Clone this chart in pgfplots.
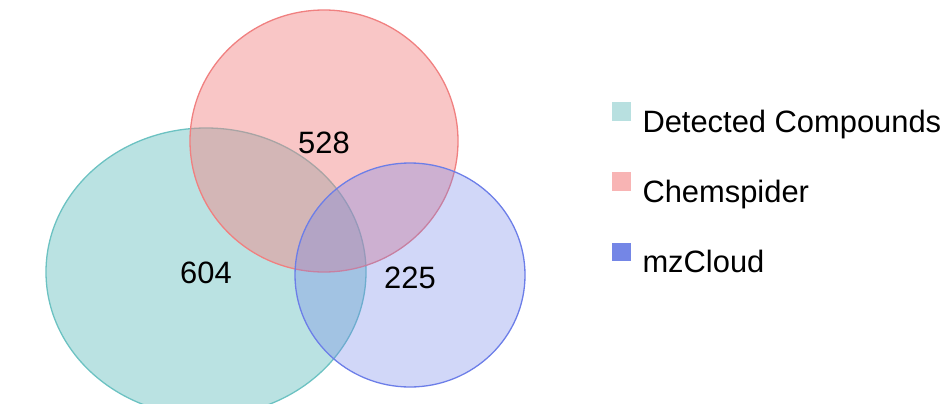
\documentclass[border=0pt]{standalone}
\usepackage{pgfplots}
\usepackage{pgfplotstable}
\usepackage{fontspec}
\setmainfont{Liberation Sans}
\pgfplotsset{compat=1.18}
\definecolor{tealline}{RGB}{108,194,194}
\definecolor{tealbase}{RGB}{118,197,197}
\definecolor{redline}{RGB}{240,128,128}
\definecolor{redbase}{RGB}{242,128,128}
\definecolor{blueline}{RGB}{108,126,232}
\definecolor{bluebase}{RGB}{113,130,232}
\definecolor{legteal}{RGB}{184,224,224}
\definecolor{legred}{RGB}{248,180,180}
\definecolor{legblue}{RGB}{116,134,230}
% sets: centre x, centre y (pixels from top), radii
\pgfplotstableread{
x y rx ry
206 272 160 144
}\setA
\pgfplotstableread{
x y rx ry
324 141 134 131
}\setB
\pgfplotstableread{
x y rx ry
410 275 115 112
}\setC
\pgfplotstableread{
x y label
206 273 604
324 143 528
410 278 225
}\labels
\pgfdeclareplotmark{vennell}{%
  \pgfpathellipse{\pgfpointorigin}{\pgfqpoint{\rx bp}{0pt}}{\pgfqpoint{0pt}{\ry bp}}%
  \pgfusepathqfillstroke}
\begin{document}
\begin{tikzpicture}
\begin{axis}[
  width=948bp, height=404bp, scale only axis,
  xmin=0, xmax=948, ymin=0, ymax=404, y dir=reverse,
  hide axis, clip marker paths=true,
  legend style={at={(axis cs:612,102)}, anchor=north west, draw=none, fill=none,
    font=\fontsize{31}{37}\selectfont, inner sep=0pt, row sep=33bp,
    nodes={inner sep=0pt, text height=30bp, text depth=7bp},
    /tikz/every odd column/.append style={column sep=12bp}},
  legend cell align=left,
]
\addplot[scatter, only marks, mark=vennell, line width=1.3bp,
  scatter/use mapped color={draw=tealline, fill=tealbase},
  mark options={fill opacity=0.5},
  visualization depends on={\thisrow{rx}\as\rx},
  visualization depends on={\thisrow{ry}\as\ry},
  legend image code/.code={\fill[legteal] (0bp,1bp) rectangle (17bp,18bp);}]
  table[x=x, y=y] {\setA};
\addlegendentry{Detected Compounds}
\addplot[scatter, only marks, mark=vennell, line width=1.3bp,
  scatter/use mapped color={draw=redline, fill=redbase},
  mark options={fill opacity=0.45},
  visualization depends on={\thisrow{rx}\as\rx},
  visualization depends on={\thisrow{ry}\as\ry},
  legend image code/.code={\fill[legred] (0bp,1bp) rectangle (17bp,18bp);}]
  table[x=x, y=y] {\setB};
\addlegendentry{Chemspider}
\addplot[scatter, only marks, mark=vennell, line width=1.3bp,
  scatter/use mapped color={draw=blueline, fill=bluebase},
  mark options={fill opacity=0.32},
  visualization depends on={\thisrow{rx}\as\rx},
  visualization depends on={\thisrow{ry}\as\ry},
  legend image code/.code={\fill[legblue] (0bp,1bp) rectangle (17bp,18bp);}]
  table[x=x, y=y] {\setC};
\addlegendentry{mzCloud}
\addplot[only marks, mark=none, nodes near coords, point meta=explicit symbolic,
  nodes near coords style={anchor=center, font=\fontsize{31}{37}\selectfont, text=black}]
  table[x=x, y=y, meta=label] {\labels};
\end{axis}
\pgfresetboundingbox
\path (current axis.south west) rectangle (current axis.north east);
\end{tikzpicture}
\end{document}
